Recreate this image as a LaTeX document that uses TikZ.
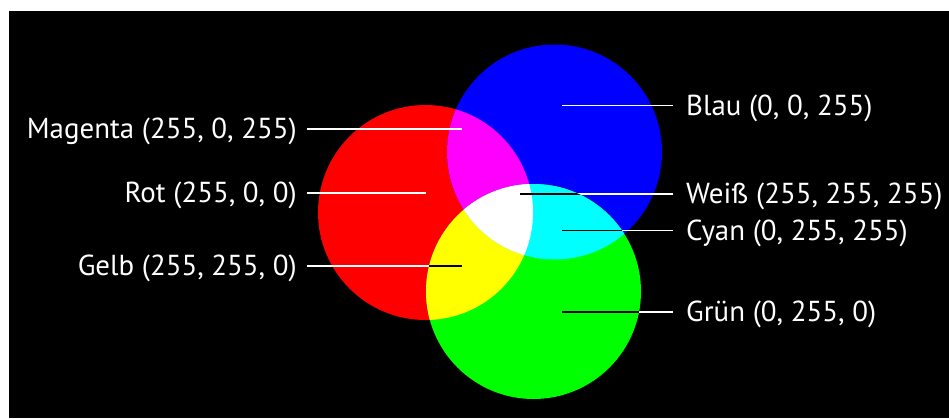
\documentclass[tikz,border=0pt]{standalone}
\usepackage{fontspec}
\setmainfont{PT Sans}
\definecolor{cR}{RGB}{255,0,0}
\definecolor{cG}{RGB}{0,255,0}
\definecolor{cB}{RGB}{0,0,255}
\definecolor{cM}{RGB}{255,0,255}
\definecolor{cY}{RGB}{255,255,0}
\definecolor{cC}{RGB}{0,255,255}
\begin{document}
\begin{tikzpicture}[x=1pt,y=-1pt,
  lbl/.style={text=white,font=\fontsize{28.9}{32}\selectfont,inner ysep=0pt},
  lleft/.style={lbl,anchor=base east,inner xsep=10pt},
  lright/.style={lbl,anchor=base west,inner xsep=13pt},
  conn/.style={line width=1.8pt}]
\useasboundingbox (0,0) rectangle (949,418);
\fill[white] (0,0) rectangle (949,418);
\fill[black] (9,11) rectangle (949,418);
\def\R{107.5pt}
\coordinate (cr) at (425.5,212.5);
\coordinate (cb) at (554.5,152);
\coordinate (cg) at (533.5,291.5);
% base circles
\fill[cR] (cr) circle[radius=\R];
\fill[cB] (cb) circle[radius=\R];
\fill[cG] (cg) circle[radius=\R];
% pairwise overlaps
\begin{scope}
  \clip (cr) circle[radius=\R];
  \fill[cM] (cb) circle[radius=\R];
  \fill[cY] (cg) circle[radius=\R];
\end{scope}
\begin{scope}
  \clip (cb) circle[radius=\R];
  \fill[cC] (cg) circle[radius=\R];
\end{scope}
\begin{scope}
  \clip (cr) circle[radius=\R];
  \clip (cb) circle[radius=\R];
  \fill[white] (cg) circle[radius=\R];
\end{scope}
% label end points
\coordinate (mend) at (462,129);
\coordinate (rend) at (426,193);
\coordinate (yend) at (462,266);
\coordinate (bend) at (562,105.5);
\coordinate (wend) at (520,194);
\coordinate (cend) at (562,230.5);
\coordinate (gend) at (562,312);
% labels
\node[lleft] (mlab) at (307,138.5) {Magenta (255, 0, 255)};
\node[lleft] (rlab) at (307,202.5) {Rot (255, 0, 0)};
\node[lleft] (ylab) at (307,275.5) {Gelb (255, 255, 0)};
\node[lright] (blab) at (673,115) {Blau (0, 0, 255)};
\node[lright] (wlab) at (673,203.5) {Weiß (255, 255, 255)};
\node[lright] (clab) at (673,240) {Cyan (0, 255, 255)};
\node[lright] (glab) at (673,321.5) {Grün (0, 255, 0)};
% connectors (white)
\foreach \l/\e in {mlab/mend,rlab/rend,ylab/yend}
  \draw[conn,white] (\l.east |- \e) -- (\e);
\foreach \l/\e in {blab/bend,wlab/wend,clab/cend,glab/gend}
  \draw[conn,white] (\l.west |- \e) -- (\e);
% connectors black inside the green circle
\begin{scope}
  \clip (cg) circle[radius=\R];
  \foreach \l/\e in {mlab/mend,rlab/rend,ylab/yend}
    \draw[conn,black] (\l.east |- \e) -- (\e);
  \foreach \l/\e in {blab/bend,wlab/wend,clab/cend,glab/gend}
    \draw[conn,black] (\l.west |- \e) -- (\e);
\end{scope}
\end{tikzpicture}
\end{document}
